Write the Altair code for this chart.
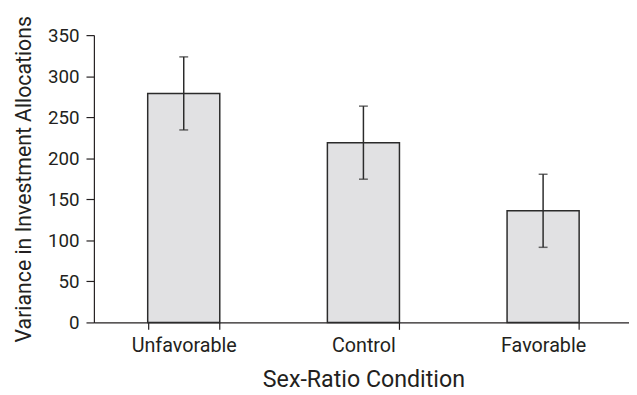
import altair as alt
import pandas as pd

conditions = ["Unfavorable", "Control", "Favorable"]
variances = [279, 219, 136]
std_errors = [44.5, 44.5, 44.5]

df = pd.DataFrame({
    "cond": conditions,
    "var": variances,
    "lo": [v - e for v, e in zip(variances, std_errors)],
    "hi": [v + e for v, e in zip(variances, std_errors)],
})

FONT = "Roboto"
INK = "#231f20"

xscale = alt.Scale(domain=conditions, range=[0, 546], paddingInner=0.6, paddingOuter=0.3)
yscale = alt.Scale(domain=[0, 350], nice=False)

xaxis = alt.Axis(title="Sex-Ratio Condition", labelAngle=0, tickBand="extent", ticks=True,
                 tickSize=7, labelPadding=6, titleBaseline="alphabetic", titleX=273, titleY=65,
                 labelFontSize=20, titleFontSize=23.5, grid=False)
yaxis = alt.Axis(title="Variance in Investment Allocations", values=list(range(0, 351, 50)),
                 tickSize=8, labelPadding=7, titleBaseline="alphabetic", titleAlign="center",
                 titleX=-64, titleAngle=270,
                 labelFontSize=19, titleFontSize=21.5, grid=False)

x = alt.X("cond:N", sort=conditions, scale=xscale, axis=xaxis)

bars = alt.Chart(df).mark_bar(color="#e1e1e3", stroke="#2b2b2b", strokeWidth=1.5, size=73).encode(
    x=x, y=alt.Y("var:Q", scale=yscale, axis=yaxis))

err = alt.Chart(df).mark_errorbar(ticks=alt.MarkConfig(size=9, color="#2b2b2b", strokeWidth=1.5),
                                  color="#2b2b2b", thickness=1.5).encode(
    x=x,
    y=alt.Y("lo:Q", scale=yscale, axis=yaxis),
    y2="hi:Q",
)

chart = (bars + err).properties(
    width=542, height=291,
    autosize=alt.AutoSizeParams(type="none"),
    padding={"left": 87, "top": 25, "right": 0, "bottom": 69},
).configure_view(stroke=None).configure_axis(
    domainColor=INK, tickColor=INK, labelColor=INK, titleColor=INK,
    labelFont=FONT, titleFont=FONT, titleFontWeight="normal", domainWidth=1.2, tickWidth=1.2,
)

chart.save("out.html", embed_options={"renderer": "svg", "actions": False})
